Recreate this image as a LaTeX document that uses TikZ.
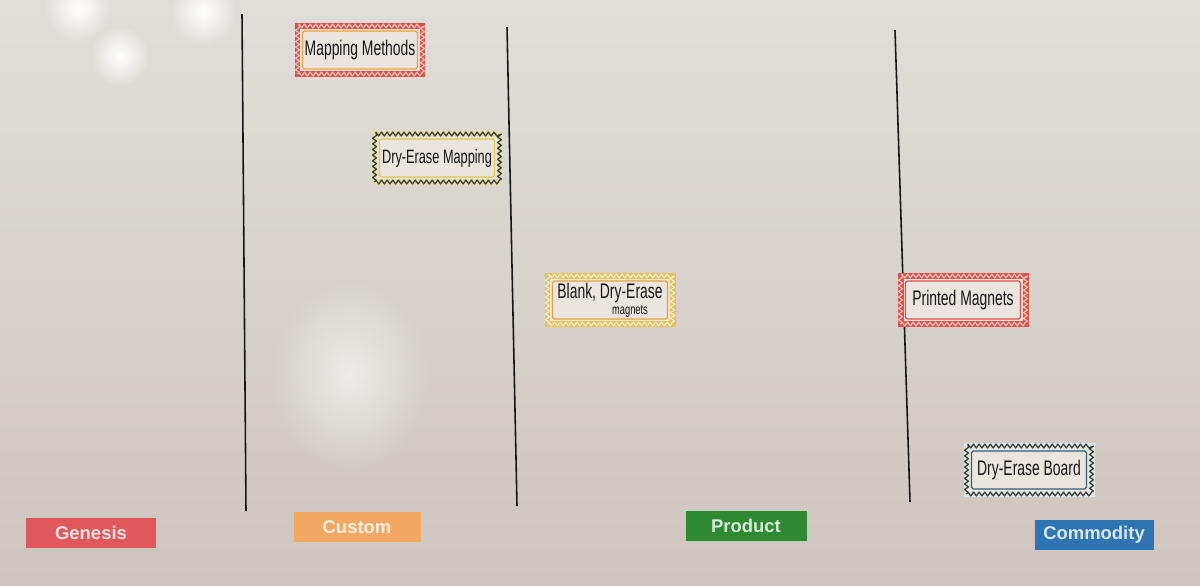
\documentclass[tikz,border=0pt]{standalone}
\usepackage{fontspec}
\setmainfont{Liberation Sans}
\newfontfamily\wbhand[FakeStretch=0.66]{Liberation Sans}
\usetikzlibrary{positioning,decorations.pathmorphing,fadings}
\definecolor{wbtop}  {HTML}{E1DED9}
\definecolor{wbbot}  {HTML}{CDC6BE}
\definecolor{wbink}  {HTML}{161616}
\definecolor{wbcard} {HTML}{EBE5DF}
\definecolor{mgred}  {HTML}{E0504A}
\definecolor{mgpink} {HTML}{F6C0B6}
\definecolor{mgamber}{HTML}{E9A23B}
\definecolor{mgdark} {HTML}{3A3A30}
\definecolor{mglime} {HTML}{E2DEA8}
\definecolor{mgyell} {HTML}{E5C35A}
\definecolor{mgcream}{HTML}{F5EBC8}
\definecolor{mgblue} {HTML}{2F5F7A}
\definecolor{mgsky}  {HTML}{DCE6E8}
\definecolor{stgen}  {HTML}{E0585B}
\definecolor{stcus}  {HTML}{F2A862}
\definecolor{stpro}  {HTML}{2D8A30}
\definecolor{stcom}  {HTML}{2E74B3}
\tikzfading[name=wbglare, inner color=transparent!0, outer color=transparent!100]
\tikzset{
  magnet/.style n args={2}{draw=#1, line width=3.4pt, fill=wbcard,
    minimum width=25mm, minimum height=9.6mm,
    inner sep=1pt, align=center, text=wbink,
    font=\wbhand\fontsize{12}{11}\selectfont,
    postaction={draw=#2, line width=0.7pt, line join=round, decorate,
      decoration={zigzag, segment length=3.2pt, amplitude=1.1pt}}},
  stage/.style={fill=#1, text=#1!18!white,
    font=\bfseries\fontsize{10.5}{12}\selectfont, minimum height=6mm},
  rule/.style={wbink, line width=0.9pt}
}
\newcommand{\wbmagnet}[6]{%
  \node[magnet={#3}{#4}] (#1) at (#2) {#6};
  \draw[#5, line width=0.7pt, rounded corners=1pt]
    ([shift={(1.6mm,-1.6mm)}]#1.north west)
    rectangle ([shift={(-1.6mm,1.6mm)}]#1.south east);}

\begin{document}
\begin{tikzpicture}[x=0.2mm, y=-0.2mm]
  \useasboundingbox (0,0) rectangle (1200,585);
  \shade[top color=wbtop, bottom color=wbbot] (0,0) rectangle (1200,585);
  \fill[white, opacity=0.6, path fading=wbglare] (270,280) rectangle (430,470);
  \foreach \gx/\gy/\gr in {78/8/34, 120/56/30, 203/12/34}
    \fill[white, path fading=wbglare] (\gx,\gy) circle (\gr);
  \draw[rule] (242,14) -- (246,511);
  \draw[rule] (507,27) -- (517,506);
  \draw[rule] (895,30) -- (910,502);
  \wbmagnet{methods}{360,50}{mgred}{mgpink}{mgamber}{Mapping Methods}
  \wbmagnet{drymap}{437,158}{mglime}{mgdark}{mgyell}{\fontsize{11}{11}\selectfont Dry-Erase Mapping}
  \wbmagnet{blank}{610,300}{mgyell}{mgcream}{mgamber}{Blank, Dry-Erase\\[-2pt]\hspace*{8mm}{\fontsize{8}{8}\selectfont magnets}}
  \wbmagnet{printed}{963,300}{mgred}{mgpink}{mgred}{Printed Magnets}
  \wbmagnet{board}{1029,470}{mgsky}{mgdark}{mgblue}{Dry-Erase Board}
  \node[stage=stgen, minimum width=26mm]   (genesis) at (91,533)   {Genesis};
  \node[stage=stcus, minimum width=25.4mm] (custom)  at (357,527)  {Custom};
  \node[stage=stpro, minimum width=24.2mm] (product) at (746,526)  {Product};
  \node[stage=stcom, minimum width=23.8mm] (commod)  at (1094,535) {Commodity};
\end{tikzpicture}
\end{document}
